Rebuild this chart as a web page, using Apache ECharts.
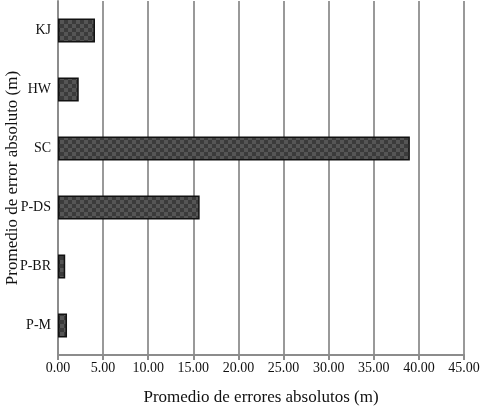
<!DOCTYPE html>
<html>
<head>
<meta charset="utf-8">
<script src="https://cdn.jsdelivr.net/npm/echarts@6/dist/echarts.min.js"></script>
<style>
html, body { margin: 0; padding: 0; background: #fff; }
#chart { width: 481px; height: 406px; }
</style>
</head>
<body>
<div id="chart"></div>
<script>
const categories = ["P-M", "P-BR", "P-DS", "SC", "HW", "KJ"]
const values = [1.0, 0.8, 15.7, 39.0, 2.3, 4.1]
const xTicks = { min: 0, max: 45, interval: 5 }

// checkered fill like the reference bars
const makePattern = () => {
	const c = document.createElement("canvas")
	c.width = 8
	c.height = 8
	const ctx = c.getContext("2d")
	ctx.fillStyle = "#3b3b3b"
	ctx.fillRect(0, 0, 8, 8)
	ctx.fillStyle = "#555555"
	ctx.fillRect(0, 0, 4, 4)
	ctx.fillRect(4, 4, 4, 4)
	return c
}

const chart = echarts.init(document.getElementById("chart"))
const font = "Liberation Serif"

chart.setOption({
	backgroundColor: "#fff",
	animation: false,
	grid: { left: 58, right: 17, top: 1, bottom: 51, outerBoundsMode: "none", containLabel: false },
	xAxis: {
		type: "value",
		min: xTicks.min,
		max: xTicks.max,
		interval: xTicks.interval,
		name: "Promedio de errores absolutos (m)",
		nameLocation: "middle",
		nameGap: 34,
		nameMoveOverlap: false,
		nameTextStyle: { fontFamily: font, fontSize: 17, color: "#111" },
		axisLine: { show: true, lineStyle: { color: "#8c8c8c", width: 2 } },
		axisTick: { show: true, length: 5, lineStyle: { color: "#8c8c8c", width: 2 } },
		axisLabel: {
			fontFamily: font,
			fontSize: 14,
			color: "#111",
			margin: 6,
			formatter: v => v.toFixed(2)
		},
		splitLine: { show: true, lineStyle: { color: "#999", width: 2 } }
	},
	yAxis: {
		type: "category",
		data: categories,
		name: "Promedio de error absoluto (m)",
		nameLocation: "middle",
		nameGap: 37,
		nameRotate: 90,
		nameMoveOverlap: false,
		nameTextStyle: { fontFamily: font, fontSize: 17, color: "#111" },
		axisLine: { show: true, lineStyle: { color: "#8c8c8c", width: 2 } },
		axisTick: { show: false },
		axisLabel: { fontFamily: font, fontSize: 14, color: "#111", margin: 7 }
	},
	series: [
		{
			type: "bar",
			data: values,
			barWidth: 24,
			itemStyle: {
				color: { image: makePattern(), repeat: "repeat" },
				borderColor: "#111",
				borderWidth: 1.5
			}
		}
	]
})
</script>
</body>
</html>
